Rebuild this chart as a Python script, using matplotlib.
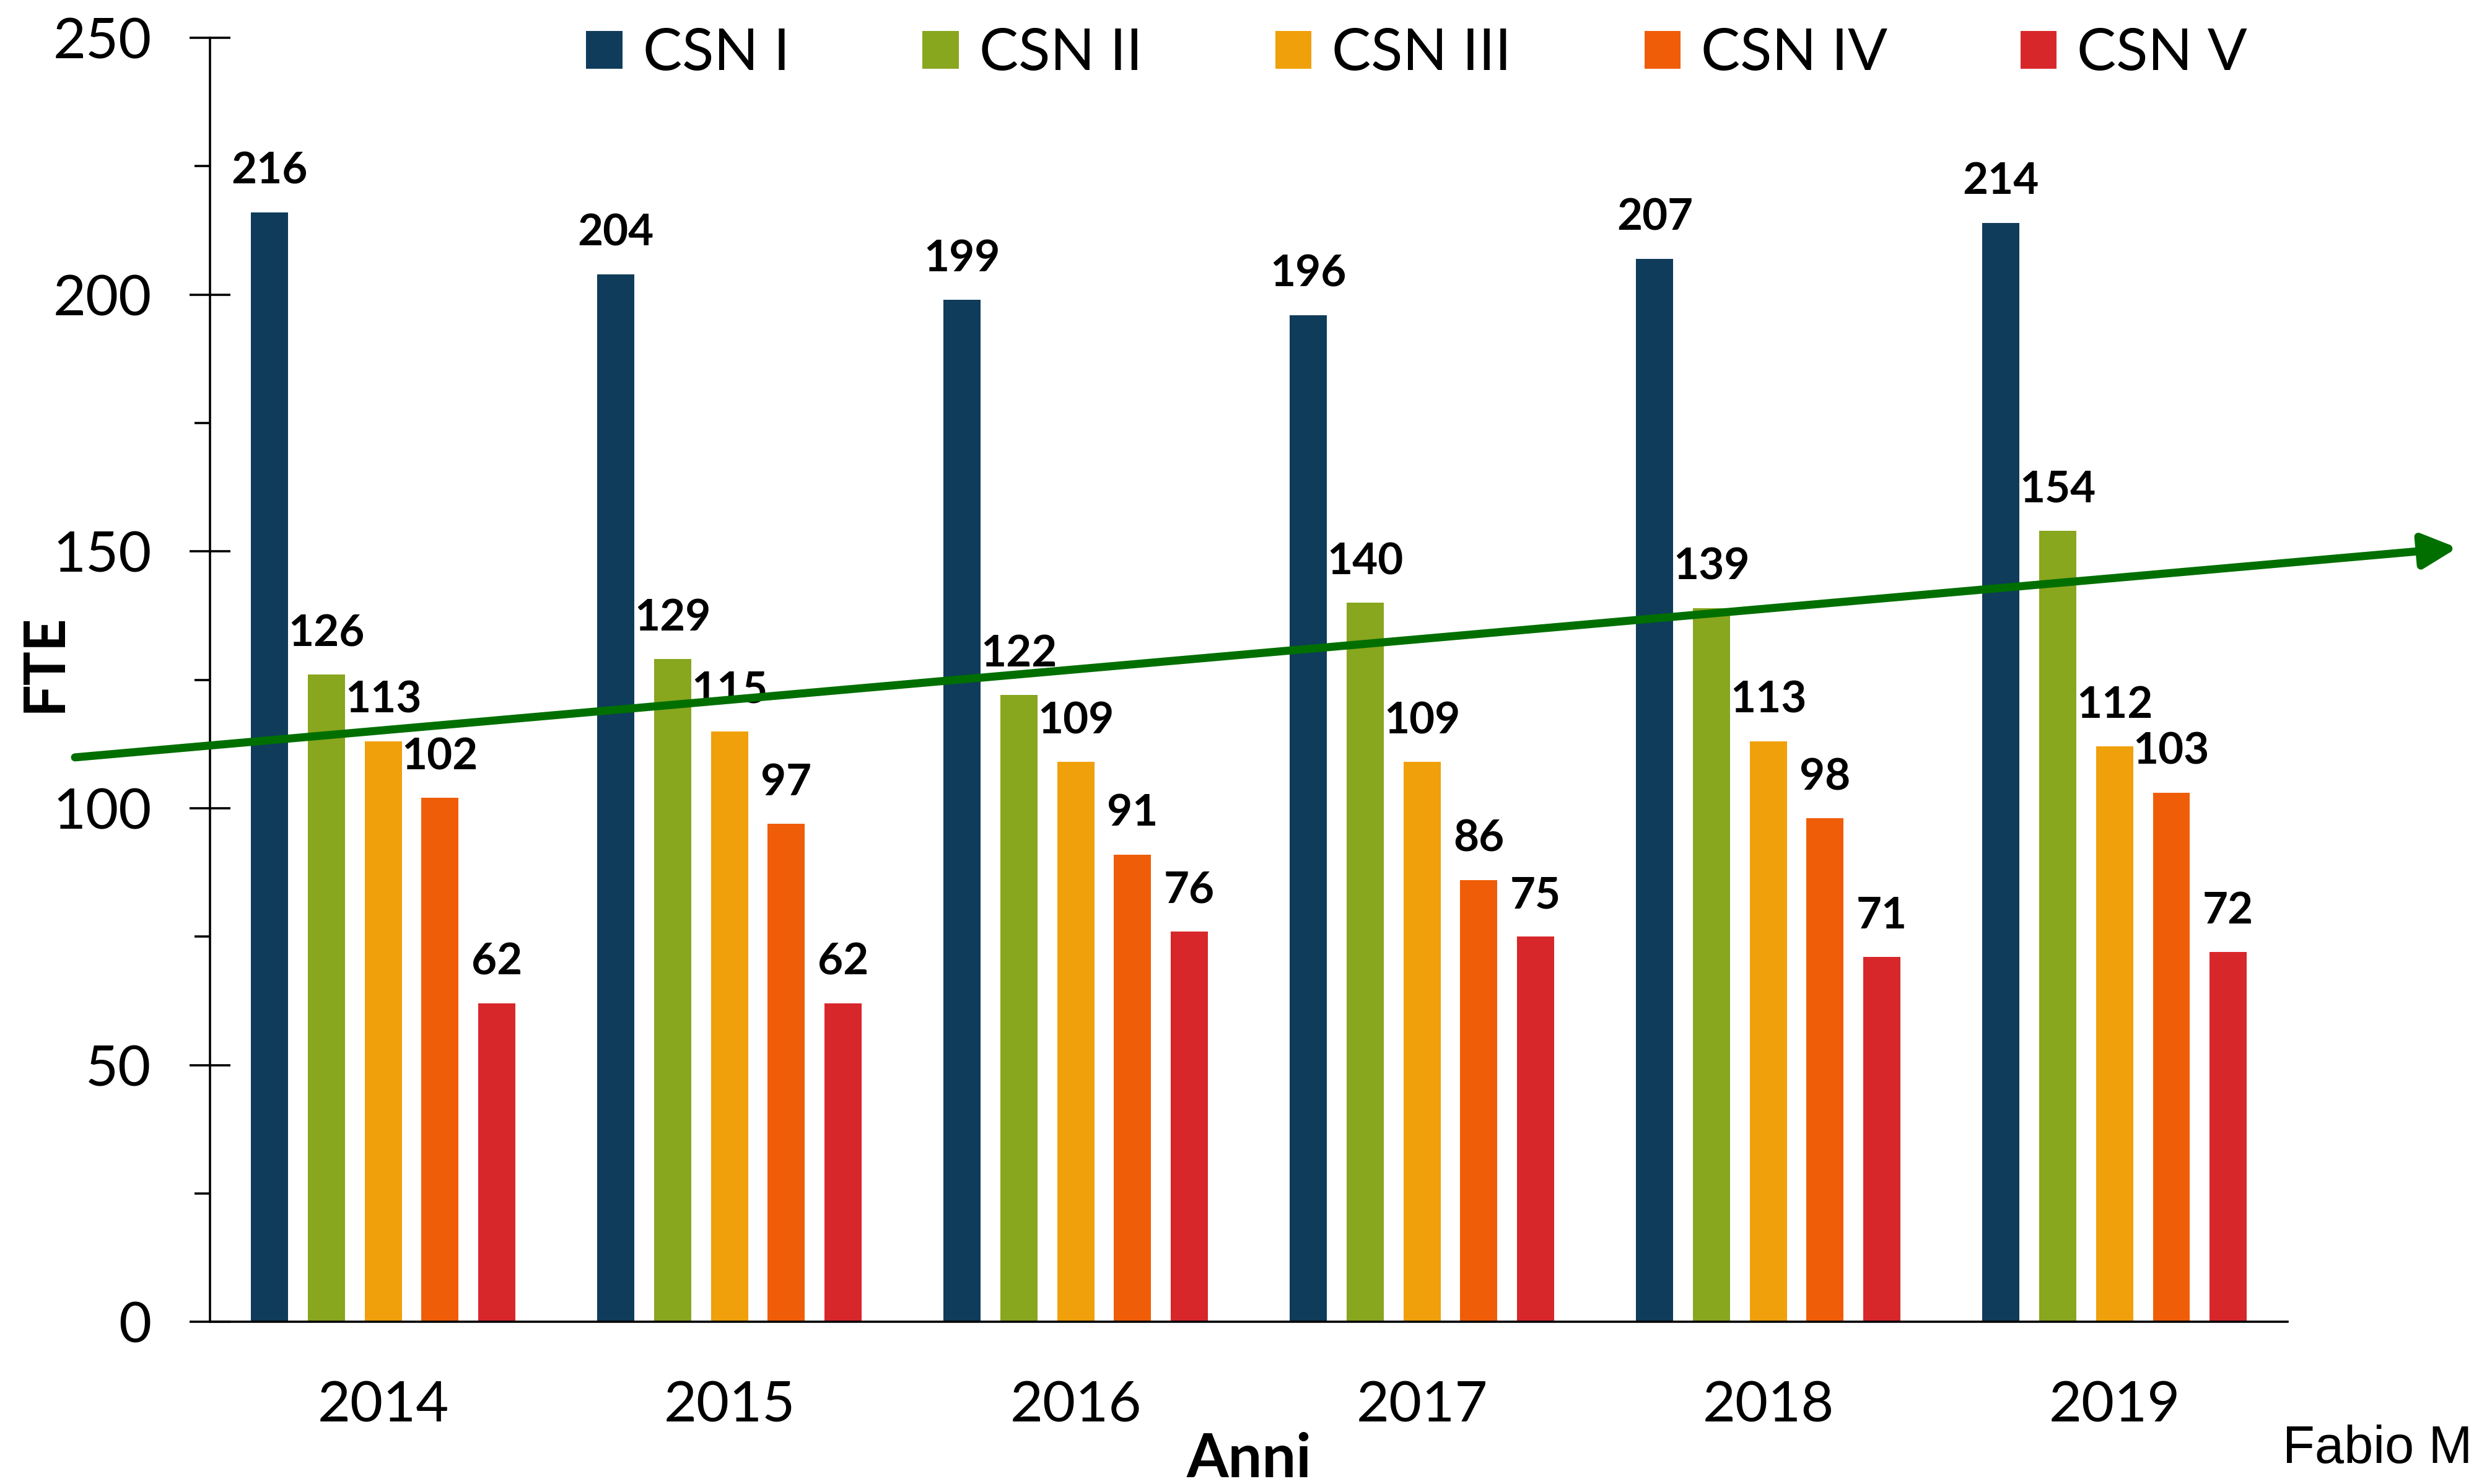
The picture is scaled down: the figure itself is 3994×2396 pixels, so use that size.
import matplotlib
matplotlib.use('Agg')
import matplotlib.pyplot as plt
import numpy as np
from matplotlib.ticker import MultipleLocator

years = ['2014', '2015', '2016', '2017', '2018', '2019']
series_names = ['CSN I', 'CSN II', 'CSN III', 'CSN IV', 'CSN V']
csn1 = [216, 204, 199, 196, 207, 214]
csn2 = [126, 129, 122, 140, 139, 154]
csn3 = [113, 115, 109, 109, 113, 112]
csn4 = [102, 97, 91, 86, 98, 103]
csn5 = [62, 62, 76, 75, 71, 72]
colors = ['#0f3c5a', '#88a61e', '#f0a00a', '#f05d08', '#d8272b']

# trend arrow (x in group units, y in FTE)
trend_start = (-0.89, 109.9)
trend_end = (5.99, 150.7)

plt.rcParams['font.family'] = ['Lato', 'DejaVu Sans']

fig = plt.figure(figsize=(19.97, 11.98), dpi=200)
ax = fig.add_axes([0.0849, 0.1093, 0.8398, 0.8652])

x = np.arange(len(years))
step = 0.164
width = 0.107
all_series = [csn1, csn2, csn3, csn4, csn5]
for i, vals in enumerate(all_series):
    xpos = x + (i - 2) * step
    ax.bar(xpos, vals, width, color=colors[i], label=series_names[i], zorder=2)
    for xp, v in zip(xpos, vals):
        ax.annotate(str(v), (xp, v), xytext=(0, 24), textcoords='offset points',
                    ha='center', va='center', fontsize=25.5, fontweight='bold', zorder=3)

ax.annotate('', xy=trend_end, xytext=trend_start,
            arrowprops=dict(arrowstyle='-|>,head_length=0.4,head_width=0.2',
                            mutation_scale=42, lw=4.7, color='#006f00',
                            shrinkA=0, shrinkB=0),
            annotation_clip=False, zorder=5)

ax.set_xlim(-0.5, 5.5)
ax.set_ylim(0, 250)
ax.set_xticks(x)
ax.set_xticklabels(years)
ax.yaxis.set_major_locator(MultipleLocator(50))
ax.yaxis.set_minor_locator(MultipleLocator(25))
ax.tick_params(axis='x', length=0, pad=34, labelsize=33)
ax.tick_params(axis='y', which='major', direction='inout', length=24, width=1.3,
               pad=22, labelsize=33)
ax.tick_params(axis='y', which='minor', direction='out', length=9, width=1.3)
for s in ['top', 'right']:
    ax.spines[s].set_visible(False)
for s in ['left', 'bottom']:
    ax.spines[s].set_linewidth(1.3)

ax.set_xlabel('Anni', fontsize=35, fontweight='bold')
ax.xaxis.set_label_coords(0.5, -0.086)
ax.set_ylabel('FTE', fontsize=33, fontweight='bold')
ax.yaxis.set_label_coords(-0.0668, 0.513)

fig.legend(loc='center left', bbox_to_anchor=(0.2369, 0.9635), ncol=5,
           frameon=False, fontsize=34, handlelength=0.62, handleheight=0.62,
           handletextpad=0.35, columnspacing=2.27, borderpad=0, borderaxespad=0)

fig.text(0.9226, 0.0235, 'Fabio M', ha='left', va='center', fontsize=30.5,
         family='Liberation Sans')

fig.savefig('out.png', dpi=200)
